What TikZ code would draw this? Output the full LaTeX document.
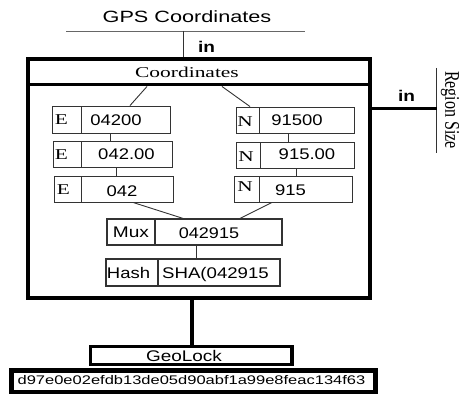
\documentclass[tikz,border=0pt]{standalone}
\usepackage{graphicx}
\usepackage{fontspec}
\newfontfamily\lsans{Liberation Sans}
\newfontfamily\lserif{Liberation Serif}
\newcommand{\stretchx}[2]{\scalebox{#1}[1]{#2}}
\tikzset{
  thinline/.style={draw=black!80, line width=0.9pt},
  cell/.style={rectangle, thinline, inner sep=0pt},
  stxt/.style={inner sep=0pt, anchor=base, text=black},
  numtxt/.style={stxt, font=\lsans\fontsize{15.4}{18}\selectfont},
  sertxt/.style={stxt, font=\lserif\fontsize{15}{18}\selectfont},
  intxt/.style={stxt, font=\lsans\bfseries\fontsize{15.5}{18}\selectfont},
}
\begin{document}
\begin{tikzpicture}[x=1pt, y=-1pt]
\useasboundingbox (0,0) rectangle (461,395);

% input heading and its rule
\node[stxt, font=\lsans\fontsize{16.3}{19}\selectfont] (gps) at (187,23) {\stretchx{1.33}{GPS Coordinates}};
\coordinate (gl) at (66,31);
\coordinate (gr) at (305,31);
\coordinate (gj) at (183.3,31);
\draw[draw=black!60, line width=0.9pt] (gl) -- (gr);

% main block with its title band
\node[rectangle, draw=black, line width=4pt, minimum width=342, minimum height=239, inner sep=0pt] (outer) at (199,179) {};
\node[rectangle, draw=black, line width=3pt, minimum width=342, minimum height=25.5, inner sep=0pt] (band) at (199,72.25) {};
\node[sertxt] (bandt) at (187,78) {\stretchx{1.43}{Coordinates}};

\draw[thinline] (gj) -- (gj |- outer.north);
\node[intxt] (in1) at (206.5,53) {\stretchx{1.23}{in}};

% region size input on the right
\coordinate (rt) at (436.7,68);
\coordinate (rb) at (436.7,153);
\coordinate (rj) at (436.7,108.5);
\draw[thinline] (rt) -- (rb);
\draw[draw=black, line width=3pt] (outer.east |- rj) -- (rj);
\node[intxt] (in2) at (406.5,102) {\stretchx{1.23}{in}};
\node[inner sep=0pt, rotate=-90, font=\lserif\fontsize{16}{18}\selectfont] (region) at (450,110) {\scalebox{1}[1.3]{Region Size}};

% east coordinate chain
\node[cell, minimum width=29, minimum height=27] (e1l) at (66.5,119.5) {};
\node[cell, minimum width=89, minimum height=27] (e1v) at (125.5,119.5) {};
\node[cell, minimum width=28, minimum height=26] (e2l) at (67,154) {};
\node[cell, minimum width=91, minimum height=26] (e2v) at (126.5,154) {};
\node[cell, minimum width=27, minimum height=26] (e3l) at (67.5,189) {};
\node[cell, minimum width=92, minimum height=26] (e3v) at (127,189) {};
\node[sertxt] (e1lt) at (61.5,125) {\stretchx{1.42}{E}};
\node[sertxt] (e2lt) at (61.5,160) {\stretchx{1.42}{E}};
\node[sertxt] (e3lt) at (63.5,195) {\stretchx{1.42}{E}};
\node[numtxt] (e1vt) at (116,126) {\stretchx{1.2}{04200}};
\node[numtxt] (e2vt) at (126.5,160) {\stretchx{1.2}{042.00}};
\node[numtxt] (e3vt) at (122,197) {\stretchx{1.2}{042}};

% north coordinate chain
\node[cell, minimum width=23, minimum height=26] (n1l) at (247.5,120) {};
\node[cell, minimum width=95, minimum height=26] (n1v) at (306.5,120) {};
\node[cell, minimum width=24, minimum height=26] (n2l) at (248,155) {};
\node[cell, minimum width=94, minimum height=26] (n2v) at (307,155) {};
\node[cell, minimum width=25, minimum height=26] (n3l) at (246.5,189) {};
\node[cell, minimum width=93, minimum height=26] (n3v) at (305.5,189) {};
\node[sertxt] (n1lt) at (245,127) {\stretchx{1.42}{N}};
\node[sertxt] (n2lt) at (246,162) {\stretchx{1.42}{N}};
\node[sertxt] (n3lt) at (245,192) {\stretchx{1.42}{N}};
\node[numtxt] (n1vt) at (297,126) {\stretchx{1.2}{91500}};
\node[numtxt] (n2vt) at (307,160) {\stretchx{1.2}{915.00}};
\node[numtxt] (n3vt) at (290.5,196) {\stretchx{1.2}{915}};

% multiplexer and hash stages
\node[cell, line width=1.2pt, minimum width=48, minimum height=26] (muxl) at (131,232) {};
\node[cell, line width=1.2pt, minimum width=127, minimum height=26] (muxv) at (218.5,232) {};
\node[cell, line width=1.2pt, minimum width=52, minimum height=27] (hashl) at (132,272.5) {};
\node[cell, line width=1.2pt, minimum width=122, minimum height=27] (hashv) at (219,272.5) {};
\node[numtxt] (muxlt) at (131,238) {\stretchx{1.24}{Mux}};
\node[numtxt] (muxvt) at (209,239) {\stretchx{1.17}{042915}};
\node[numtxt] (hashlt) at (128.5,279) {\stretchx{1.2}{Hash}};
\node[numtxt] (hashvt) at (215.5,279) {\stretchx{1.21}{SHA(042915}};

% connectors inside the block
\draw[thinline] ([xshift=-52]band.south) -- ([xshift=4.5]e1v.north);
\draw[thinline] ([xshift=23]band.south) -- ([xshift=2.5]n1l.north);
\draw[thinline] ([xshift=-15.5]e1v.south) -- ([xshift=-16.5]e2v.north);
\draw[thinline] ([xshift=-10.5]e2v.south) -- ([xshift=-11]e3v.north);
\draw[thinline] ([xshift=-18.5]n1v.south) -- ([xshift=-19]n2v.north);
\draw[thinline] ([xshift=-11]n2v.south) -- ([xshift=-9.5]n3v.north);
\draw[thinline] ([xshift=6]e3v.south) -- ([xshift=-35.5]muxv.north);
\draw[thinline] ([xshift=-33.5]n3v.south) -- ([xshift=21.5]muxv.north);
\draw[thinline] ([xshift=-22.5]muxv.south) -- ([xshift=-23]hashv.north);

% output
\node[rectangle, draw=black, line width=3.5pt, minimum width=201.5, minimum height=18, inner sep=0pt] (geo) at (191.25,355.5) {};
\node[rectangle, draw=black, line width=4.5pt, minimum width=364, minimum height=21.5, inner sep=0pt] (hex) at (193.5,381.25) {};
\node[numtxt] (geot) at (184,362) {\stretchx{1.23}{GeoLock}};
\node[stxt, font=\lsans\fontsize{12.5}{15}\selectfont] (hext) at (191.5,385) {\stretchx{1.32}{d97e0e02efdb13de05d90abf1a99e8feac134f63}};
\draw[draw=black, line width=4pt] ([xshift=-7]outer.south) -- ([xshift=0.75]geo.north);
\end{tikzpicture}
\end{document}
